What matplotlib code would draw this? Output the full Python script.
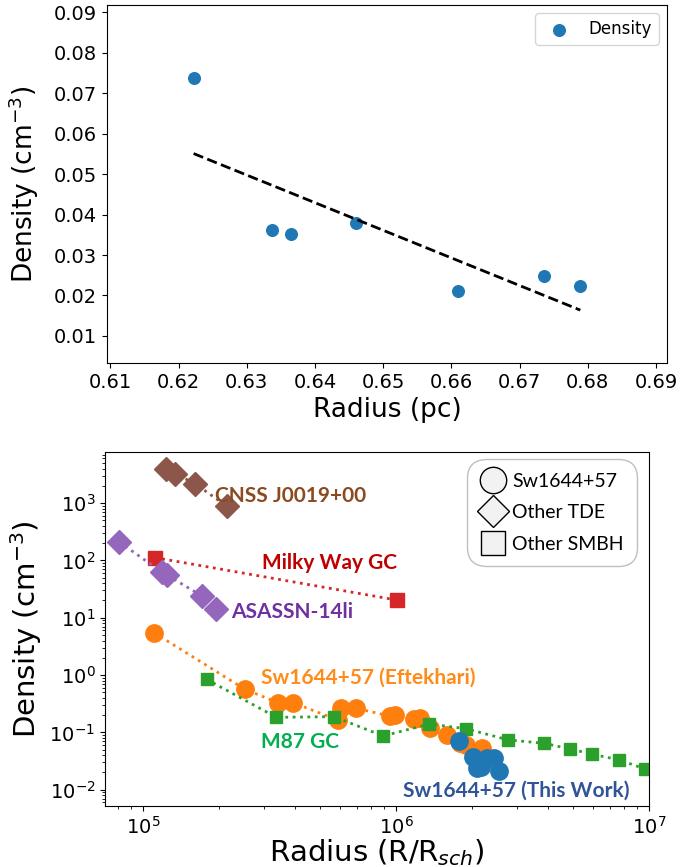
import numpy as np
import matplotlib
matplotlib.use("Agg")
from matplotlib import pyplot as plt
from matplotlib.lines import Line2D

# top panel: density vs radius in pc
radius_pc = [0.6222, 0.6337, 0.6365, 0.6460, 0.6609, 0.6736, 0.6789]
density = [0.0738, 0.0363, 0.0352, 0.0380, 0.0211, 0.0248, 0.0223]

# bottom panel: density profiles in R/R_sch
cnss_r = [1.233e5, 1.337e5, 1.606e5, 2.14e5]
cnss_n = [3990, 3266, 2187, 890]

mw_r = [1.115e5, 1.01e6]
mw_n = [112, 20.3]

asassn_r = [8.06e4, 1.185e5, 1.248e5, 1.715e5, 1.937e5]
asassn_n = [210, 63, 55.2, 23.8, 14.0]

eft_r = [1.108e5, 2.53e5, 3.42e5, 3.92e5, 5.90e5, 6.04e5, 6.95e5, 9.46e5,
         9.91e5, 1.18e6, 1.245e6, 1.36e6, 1.585e6, 1.79e6, 1.90e6, 2.18e6]
eft_n = [5.46, 0.563, 0.329, 0.329, 0.164, 0.263, 0.263, 0.193,
         0.201, 0.171, 0.178, 0.119, 0.090, 0.0654, 0.0603, 0.0528]

m87_r = [1.786e5, 3.37e5, 5.69e5, 8.9e5, 1.355e6, 1.89e6, 2.78e6, 3.85e6,
         4.87e6, 5.98e6, 7.63e6, 9.64e6]
m87_n = [0.84, 0.183, 0.188, 0.0865, 0.140, 0.116, 0.0738, 0.0645,
         0.0514, 0.0415, 0.033, 0.023]

work_r = [1.78e6, 2.02e6, 2.10e6, 2.16e6, 2.28e6, 2.43e6, 2.56e6]
work_n = [0.0717, 0.0377, 0.0240, 0.0250, 0.0354, 0.0354, 0.0213]

fig = plt.figure(figsize=(6.84, 8.67), dpi=100)

# ---- top panel ----
ax1 = fig.add_axes([0.1564, 0.5813, 0.8187, 0.4129])
ax1.scatter(radius_pc, density, s=70, color="#1f77b4", label="Density")
fit = np.polyfit(radius_pc, density, 1)
xf = np.array([min(radius_pc), max(radius_pc)])
ax1.plot(xf, np.polyval(fit, xf), "k--", lw=2)
ax1.set_xlim(0.6095, 0.6916)
ax1.set_ylim(0.0033, 0.0918)
ax1.set_xticks(np.arange(0.61, 0.6901, 0.01))
ax1.set_yticks(np.arange(0.01, 0.0901, 0.01))
ax1.tick_params(labelsize=14)
ax1.set_xlabel("Radius (pc)", fontsize=19)
ax1.set_ylabel("Density (cm$^{-3}$)", fontsize=19)
ax1.yaxis.set_label_coords(-0.117, 0.5)
ax1.legend(loc="upper right", fontsize=12)

# ---- bottom panel ----
ax2 = fig.add_axes([0.1535, 0.0704, 0.7953, 0.4083])
ax2.set_xscale("log")
ax2.set_yscale("log")

ax2.plot(cnss_r, cnss_n, ":", color="#8c564b", lw=2, marker="D", ms=12)
ax2.plot(mw_r, mw_n, ":", color="#d62728", lw=2, marker="s", ms=10)
ax2.plot(asassn_r, asassn_n, ":", color="#9467bd", lw=2, marker="D", ms=12)
ax2.plot(eft_r, eft_n, ":", color="#ff7f0e", lw=2, marker="o", ms=12.5)
ax2.plot(m87_r, m87_n, ":", color="#2ca02c", lw=2, marker="s", ms=8.5)
ax2.plot(work_r, work_n, "o", color="#1f77b4", ms=12.5)

ax2.set_xlim(7.08e4, 1e7)
ax2.set_ylim(5.2e-3, 7.8e3)
ax2.tick_params(labelsize=14)
ax2.set_xlabel("Radius (R/R$_{sch}$)", fontsize=21, labelpad=0)
ax2.set_ylabel("Density (cm$^{-3}$)", fontsize=21)
ax2.yaxis.set_label_coords(-0.112, 0.5)

lab = dict(transform=ax2.transAxes, fontsize=15, fontweight="bold",
           family=["Lato", "DejaVu Sans"], va="center", ha="left")
ax2.text(0.202, 0.876, "CNSS J0019+00", color="#8b4a1f", **lab)
ax2.text(0.289, 0.686, "Milky Way GC", color="#c00000", **lab)
ax2.text(0.232, 0.548, "ASASSN-14li", color="#7030a0", **lab)
ax2.text(0.287, 0.362, "Sw1644+57 (Eftekhari)", color="#ff8c1a", **lab)
ax2.text(0.287, 0.181, "M87 GC", color="#00b050", **lab)
ax2.text(0.548, 0.042, "Sw1644+57 (This Work)", color="#2f5597", **lab)

mk = dict(color="none", markerfacecolor="#f2f2f2", markeredgecolor="black",
          markeredgewidth=1)
handles = [Line2D([], [], marker="o", ms=19, **mk),
           Line2D([], [], marker="D", ms=16, **mk),
           Line2D([], [], marker="s", ms=17, **mk)]
leg = ax2.legend(handles, ["Sw1644+57", "Other TDE", "Other SMBH"],
                 loc="upper right", bbox_to_anchor=(0.978, 0.98),
                 borderaxespad=0, handlelength=1.3,
                 handletextpad=0.3, labelspacing=0.75, borderpad=0.7,
                 prop={"family": ["Lato", "DejaVu Sans"], "size": 14},
                 fancybox=True, framealpha=1)
leg.get_frame().set_edgecolor("#bfbfbf")
leg.get_frame().set_boxstyle("round", pad=0, rounding_size=1.0)

fig.savefig("out.png", dpi=100)
